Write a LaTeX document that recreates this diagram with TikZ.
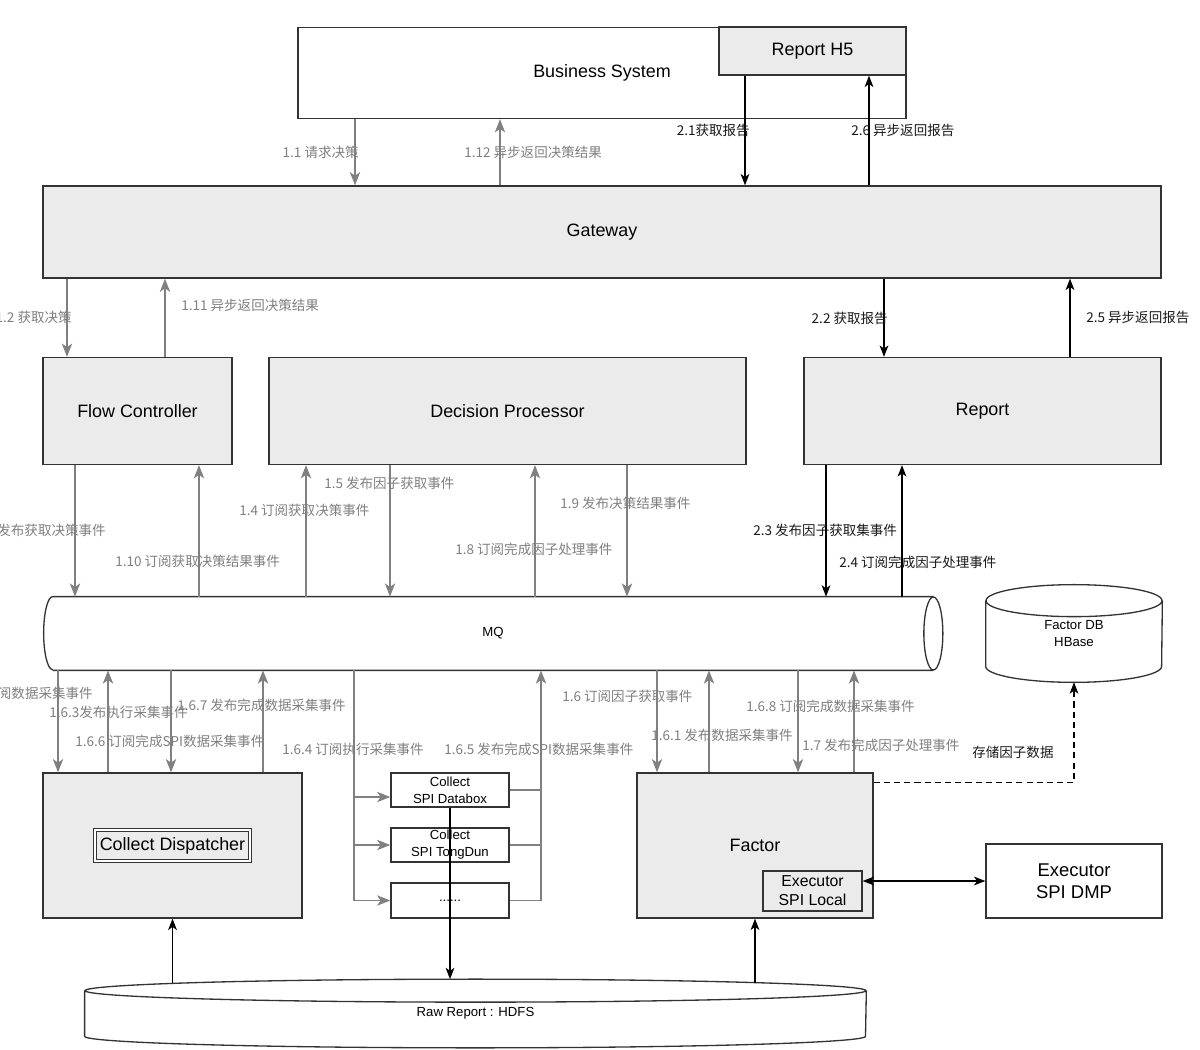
\documentclass[tikz,border=0pt]{standalone}
\usepackage{fontspec}
\setmainfont{Liberation Sans}
\newfontfamily\cjkfont{Noto Sans CJK SC}
\usetikzlibrary{arrows.meta, positioning}
\definecolor{boxgray}{RGB}{235,235,235}
\definecolor{linegray}{RGB}{128,128,128}
\definecolor{edgedark}{RGB}{51,51,51}
\newcommand{\pxu}{0.02cm}

\begin{document}
\begin{tikzpicture}[
    x=0.02cm, y=-0.02cm,
    every node/.style={font=\fontsize{10.2}{12}\selectfont},
    box/.style={rectangle, draw=edgedark, line width=0.75pt, fill=boxgray, inner sep=0pt, align=center},
    plainbox/.style={box, fill=white},
    smalltext/.style={font=\fontsize{7.5}{9.6}\selectfont},
    lbl/.style={font=\cjkfont\fontsize{7.7}{9}\selectfont, text=linegray, inner sep=0pt},
    blbl/.style={lbl, text=black!90},
    garrow/.style={draw=linegray, line width=1.1pt, -{Stealth[length=7.5pt, width=5.8pt, inset=2pt]}},
    gline/.style={draw=linegray, line width=1.1pt},
    barrow/.style={draw=black, line width=0.7pt, -{Stealth[length=6.5pt, width=5pt, inset=1.8pt]}},
    bdouble/.style={draw=black, line width=0.7pt, {Stealth[length=6.5pt, width=5pt, inset=1.8pt]}-{Stealth[length=6.5pt, width=5pt, inset=1.8pt]}},
    dasharrow/.style={barrow, dash pattern=on 3.5pt off 2.3pt}
]

\path[use as bounding box, fill=white] (0,0) rectangle (1200,1050);

% boxes
\node[plainbox, minimum width=608*\pxu, minimum height=91*\pxu] (bs) at (602,73) {Business System};
\node[box, minimum width=187*\pxu, minimum height=48*\pxu] (h5) at (812.5,51) {Report H5};
\node[box, minimum width=1118*\pxu, minimum height=92*\pxu] (gw) at (602,232) {Gateway};
\node[box, minimum width=189*\pxu, minimum height=107*\pxu] (fc) at (137.5,411) {Flow Controller};
\node[box, minimum width=477*\pxu, minimum height=107*\pxu] (dp) at (507.5,411) {Decision Processor};
\node[box, minimum width=357*\pxu, minimum height=107*\pxu] (rp) at (982.5,411) {Report};

% MQ
\node[smalltext, inner sep=0pt, minimum width=880*\pxu, minimum height=73*\pxu] (mq) at (493,633.5) {MQ};
\draw[edgedark, line width=0.75pt] (mq.north west) -- (mq.north east) (mq.south west) -- (mq.south east)
    (mq.north west) arc[start angle=90, end angle=270, x radius=0.18cm, y radius=0.73cm]
    (mq.east) ellipse[x radius=0.19cm, y radius=0.73cm];

% Factor DB
\node[smalltext, inner sep=0pt, align=center, minimum width=176*\pxu, minimum height=65*\pxu] (db) at (1074,633.5) {Factor DB\\HBase};
\draw[edgedark, line width=0.75pt] (db.north west) -- (db.south west)
    arc[start angle=180, end angle=360, x radius=1.76cm, y radius=0.32cm] -- (db.north east)
    (db.north) ellipse[x radius=1.76cm, y radius=0.32cm];
\coordinate (dbb) at ([yshift=-0.32cm]db.south);

% collect side
\node[box, minimum width=259*\pxu, minimum height=145*\pxu] (cd) at (172.5,845.5) {};
\node[box, line width=0.5pt, double, double distance=1.2pt, minimum width=155*\pxu, minimum height=31*\pxu] (cdi) at (cd.center) {Collect Dispatcher};
\node[plainbox, smalltext, minimum width=118*\pxu, minimum height=34*\pxu] (spi1) at (450,790) {Collect\\SPI Databox};
\node[plainbox, smalltext, minimum width=118*\pxu, minimum height=34*\pxu] (spi2) at (450,845) {Collect\\SPI TongDun};
\node[plainbox, smalltext, minimum width=118*\pxu, minimum height=35*\pxu] (spi3) at (450,900.5) {......};

% factor side
\node[box, minimum width=236*\pxu, minimum height=145*\pxu] (fa) at (755,845.5) {Factor};
\node[box, font=\fontsize{9}{10.8}\selectfont, minimum width=99*\pxu, minimum height=40*\pxu] (exl) at (812.5,891) {Executor\\SPI Local};
\node[plainbox, font=\fontsize{10.5}{12.5}\selectfont, minimum width=176*\pxu, minimum height=74*\pxu] (dmp) at (1074,881) {Executor\\SPI DMP};

% HDFS
\node[smalltext, inner sep=0pt, minimum width=781*\pxu, minimum height=45*\pxu] (hdfs) at (475.5,1013.5) {Raw Report : HDFS};
\draw[edgedark, line width=0.75pt] (hdfs.north west) -- (hdfs.south west)
    arc[start angle=180, end angle=360, x radius=7.81cm, y radius=0.23cm] -- (hdfs.north east)
    (hdfs.north) ellipse[x radius=7.81cm, y radius=0.23cm];
\coordinate (htop) at ([yshift=0.23cm]hdfs.north);
\coordinate (hside) at ([yshift=0.15cm]hdfs.north);

% business system / gateway
\draw[garrow] (bs.south -| 355,0) -- (gw.north -| 355,0);
\draw[garrow] (gw.north -| 500,0) -- (bs.south -| 500,0);
\draw[barrow] (h5.south -| 745,0) -- (gw.north -| 745,0);
\draw[barrow] (gw.north -| 869,0) -- (h5.south -| 869,0);

% gateway / flow controller, report
\draw[garrow] (gw.south -| 67,0) -- (fc.north -| 67,0);
\draw[garrow] (fc.north -| 165,0) -- (gw.south -| 165,0);
\draw[barrow] (gw.south -| 884,0) -- (rp.north -| 884,0);
\draw[barrow] (rp.north -| 1070,0) -- (gw.south -| 1070,0);

% upper services / MQ
\draw[garrow] (fc.south -| 75,0) -- (mq.north -| 75,0);
\draw[garrow] (mq.north -| 199,0) -- (fc.south -| 199,0);
\foreach \x in {390,627} \draw[garrow] (dp.south -| \x,0) -- (mq.north -| \x,0);
\foreach \x in {306,535} \draw[garrow] (mq.north -| \x,0) -- (dp.south -| \x,0);
\draw[barrow] (rp.south -| 826,0) -- (mq.north -| 826,0);
\draw[barrow] (mq.north -| 902,0) -- (rp.south -| 902,0);

% MQ / lower services
\foreach \x in {58,171} \draw[garrow] (mq.south -| \x,0) -- (cd.north -| \x,0);
\foreach \x in {108,263} \draw[garrow] (cd.north -| \x,0) -- (mq.south -| \x,0);
\foreach \x in {657,798} \draw[garrow] (mq.south -| \x,0) -- (fa.north -| \x,0);
\foreach \x in {709,854} \draw[garrow] (fa.north -| \x,0) -- (mq.south -| \x,0);

% SPI buses
\coordinate (busl) at (354,0);
\coordinate (busr) at (541,0);
\coordinate (s1in) at ([yshift=-0.14cm]spi1.west);
\draw[garrow] (mq.south -| busl) |- (spi3.west);
\draw[garrow] (s1in -| busl) -- (s1in);
\draw[garrow] (spi2.west -| busl) -- (spi2.west);
\draw[gline] (spi1.east) -- (spi1.east -| busr);
\draw[gline] (spi2.east) -- (spi2.east -| busr);
\draw[garrow] (spi3.east) -| (mq.south -| busr);

% storage
\draw[dasharrow] ([yshift=-0.2cm]fa.north east) -| (dbb);
\draw[bdouble] (dmp.west -| exl.east) -- (dmp.west);
\draw[barrow] (hside -| cd.south) -- (cd.south);
\draw[barrow] (hside -| fa.south) -- (fa.south);
\draw[barrow] (spi1.south) -- (htop -| spi1.south);

% labels
\foreach \nm/\x/\y/\txt in {l112/464/152/1.12 异步返回决策结果, l111/181/305/1.11 异步返回决策结果,
    l110/115/561/1.10 订阅获取决策结果事件, l14/239/510/1.4 订阅获取决策事件,
    l15/324/483/1.5 发布因子获取事件, l18/455/549/1.8 订阅完成因子处理事件,
    l19/560/503/1.9 发布决策结果事件, l163/49/712/1.6.3发布执行采集事件,
    l166/75/741/1.6.6 订阅完成SPI数据采集事件, l167/177/705/1.6.7 发布完成数据采集事件,
    l164/282/749/1.6.4 订阅执行采集事件, l165/444/749/1.6.5 发布完成SPI数据采集事件,
    l16/562/696/1.6 订阅因子获取事件, l161/651/735/1.6.1 发布数据采集事件,
    l168/746/706/1.6.8 订阅完成数据采集事件, l17/802/745/1.7 发布完成因子处理事件}
    \node[lbl, anchor=west] (\nm) at (\x,\y) {\txt};
\foreach \nm/\x/\y/\txt in {l11/359/152/1.1 请求决策, l12/72/317/1.2 获取决策,
    l13/106/530/1.3 发布获取决策事件, l162/93/693/1.6.2 订阅数据采集事件}
    \node[lbl, anchor=east] (\nm) at (\x,\y) {\txt};
\foreach \nm/\x/\y/\txt in {l26/851/130/2.6 异步返回报告, l25/1086/317/2.5 异步返回报告,
    l23/753/530/2.3 发布因子获取集事件, l24/839/562/2.4 订阅完成因子处理事件,
    lst/972/752/存储因子数据}
    \node[blbl, anchor=west] (\nm) at (\x,\y) {\txt};
\node[blbl, anchor=east] (l21) at (750,130) {2.1获取报告};
\node[blbl, anchor=east] (l22) at (888,318) {2.2 获取报告};

\end{tikzpicture}
\end{document}
